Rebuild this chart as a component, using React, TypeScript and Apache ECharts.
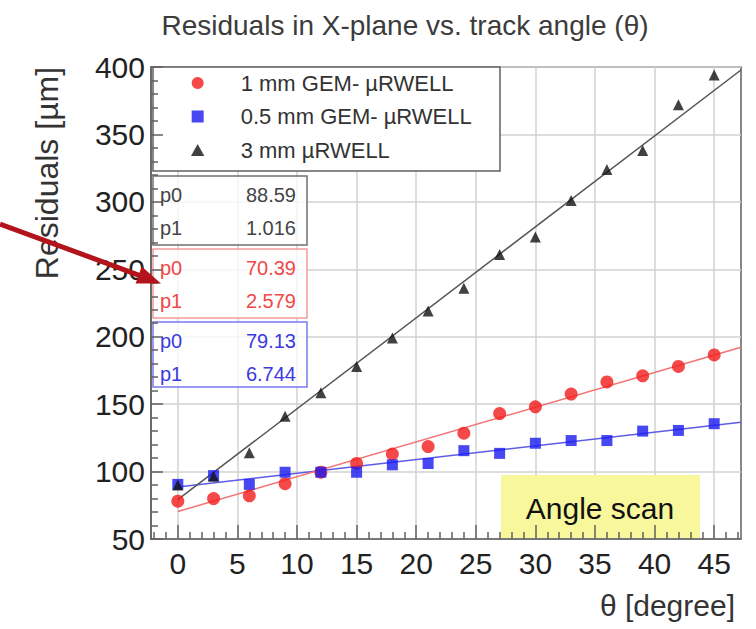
import React, { useEffect, useRef } from "react";
import * as echarts from "echarts";

// ---- data ----
const thetaDeg = [0, 3, 6, 9, 12, 15, 18, 21, 24, 27, 30, 33, 36, 39, 42, 45];
const res1mmGem = [78, 80, 82, 91, 99.5, 106, 113, 118.5, 128.5, 143, 148, 157.5, 166.5, 171, 178, 186.5];
const res05mmGem = [90.5, 97, 90.5, 99.5, 99.5, 99.5, 105, 106, 115.5, 113.5, 121, 123, 123, 130, 130.5, 135.5];
const res3mmRwell = [90, 96.5, 114, 141, 158.5, 178, 199, 219, 236, 261, 274, 301, 324, 338, 372, 394];

const seriesNames = ["1 mm GEM- \u00b5RWELL", "0.5 mm GEM- \u00b5RWELL", "3 mm \u00b5RWELL"];

// fit parameters as printed in the three stat boxes (grey, red, blue box)
const fitP0 = [88.59, 70.39, 79.13];
const fitP1 = [1.016, 2.579, 6.744];

const xMajorTicks = [0, 5, 10, 15, 20, 25, 30, 35, 40, 45];
const xMinorTicks = [-2, -1, 1, 2, 3, 4, 6, 7, 8, 9, 11, 12, 13, 14, 16, 17, 18, 19, 21, 22, 23, 24, 26, 27, 28, 29, 31, 32, 33, 34, 36, 37, 38, 39, 41, 42, 43, 44, 46, 47];
const X_MIN = -2.25;
const X_MAX = 47.25;
const Y_MIN = 50;
const Y_MAX = 400;
const Y_STEP = 50;

const titleText = "Residuals in X-plane vs. track angle (\u03b8)";
const yTitle = "Residuals [\u00b5m]";
const xTitle = "\u03b8 [degree]";
const noteText = "Angle scan";

const FONT = "'Liberation Sans', Arial, Helvetica, sans-serif";

function pairs(xs: number[], ys: number[]) {
  return xs.map((x, i) => [x, ys[i]]);
}
function fitLine(p0: number, p1: number) {
  return [
    [0, p0],
    [X_MAX, p0 + p1 * X_MAX],
  ];
}

export default function App() {
  const ref = useRef<HTMLDivElement>(null);
  useEffect(() => {
    if (!ref.current) return;
    const chart = echarts.init(ref.current, null, { renderer: "svg" });

    const boxStroke = ["#707070", "#f29a9a", "#7a7af0"];
    const boxText = ["#444444", "#f04848", "#3a3ae0"];
    const boxTop = [176, 249, 322];
    const boxH = [69, 69, 65];

    const statGraphics: any[] = [];
    fitP0.forEach((p0, i) => {
      statGraphics.push({
        type: "rect",
        z: 4,
        shape: { x: 153, y: boxTop[i], width: 154, height: boxH[i] },
        style: { fill: "rgba(255,255,255,0.75)", stroke: boxStroke[i], lineWidth: 1.5 },
      });
      const rows: [string, string][] = [
        ["p0", String(p0)],
        ["p1", String(fitP1[i])],
      ];
      rows.forEach(([k, v], r) => {
        const y = boxTop[i] + 19 + r * 33;
        statGraphics.push({
          type: "text",
          z: 6,
          x: 160,
          y,
          style: { text: k, fill: boxText[i], font: `20px ${FONT}`, textAlign: "left", textVerticalAlign: "middle" },
        });
        statGraphics.push({
          type: "text",
          z: 6,
          x: 296,
          y,
          style: { text: v, fill: boxText[i], font: `20px ${FONT}`, textAlign: "right", textVerticalAlign: "middle" },
        });
      });
    });

    const tickLine = { color: "#606060", width: 1.5 };

    const option: any = {
      animation: false,
      backgroundColor: "#ffffff",
      grid: {
        left: 151,
        right: 15,
        top: 67,
        bottom: 90,
        show: true,
        borderColor: "#606060",
        borderWidth: 1.5,
        backgroundColor: "#ffffff",
      },
      xAxis: [
        {
          type: "value",
          min: X_MIN,
          max: X_MAX,
          position: "bottom",
          axisLine: { show: false, onZero: false },
          axisTick: { show: false, customValues: xMajorTicks },
          axisLabel: { customValues: xMajorTicks, fontSize: 30, color: "#222", margin: 9, fontFamily: FONT },
          splitLine: { show: true, lineStyle: { color: "#d2d2d2", width: 1.5 } },
        },
        {
          type: "value",
          min: X_MIN,
          max: X_MAX,
          position: "bottom",
          z: 5,
          axisLine: { show: true, onZero: false, lineStyle: tickLine },
          axisTick: { show: true, inside: true, length: 14, customValues: xMajorTicks, lineStyle: tickLine },
          axisLabel: { show: false },
          splitLine: { show: false },
        },
        {
          type: "value",
          min: X_MIN,
          max: X_MAX,
          position: "bottom",
          z: 5,
          axisLine: { show: false, onZero: false },
          axisTick: { show: true, inside: true, length: 7, customValues: xMinorTicks, lineStyle: tickLine },
          axisLabel: { show: false },
          splitLine: { show: false },
        },
      ],
      yAxis: [
        {
          type: "value",
          min: Y_MIN,
          max: Y_MAX,
          interval: Y_STEP,
          position: "left",
          axisLine: { show: false, onZero: false },
          axisTick: { show: false },
          axisLabel: { fontSize: 30, color: "#222", margin: 6, fontFamily: FONT },
          splitLine: { show: true, lineStyle: { color: "#d2d2d2", width: 1.5 } },
        },
        {
          type: "value",
          min: Y_MIN,
          max: Y_MAX,
          interval: Y_STEP,
          position: "left",
          z: 5,
          axisLine: { show: true, onZero: false, lineStyle: tickLine },
          axisTick: { show: true, inside: true, length: 12, lineStyle: tickLine },
          minorTick: { show: true, splitNumber: 5, length: 7, lineStyle: tickLine },
          axisLabel: { show: false },
          splitLine: { show: false },
        },
      ],
      legend: {
        left: 186,
        top: 66,
        orient: "vertical",
        itemWidth: 76,
        itemHeight: 12,
        itemGap: 9.5,
        z: 6,
        selectedMode: false,
        textStyle: { fontSize: 22, color: "#333", fontFamily: FONT, lineHeight: 24 },
        data: [
          { name: seriesNames[0], icon: "circle" },
          { name: seriesNames[1], icon: "path://M0,0H10V10H0Z" },
          { name: seriesNames[2], icon: "path://M5,0L10,9L0,9Z" },
        ],
      },
      series: [
        {
          type: "line",
          name: "fit-grey-box",
          data: fitLine(fitP0[0], fitP1[0]),
          symbol: "none",
          silent: true,
          clip: true,
          z: 2,
          lineStyle: { color: "#5c5ce8", width: 1.5 },
        },
        {
          type: "line",
          name: "fit-red-box",
          data: fitLine(fitP0[1], fitP1[1]),
          symbol: "none",
          silent: true,
          clip: true,
          z: 2,
          lineStyle: { color: "#f27272", width: 1.5 },
        },
        {
          type: "line",
          name: "fit-blue-box",
          data: fitLine(fitP0[2], fitP1[2]),
          symbol: "none",
          silent: true,
          clip: true,
          z: 2,
          lineStyle: { color: "#555555", width: 1.5 },
        },
        {
          type: "scatter",
          name: seriesNames[0],
          data: pairs(thetaDeg, res1mmGem),
          symbol: "circle",
          symbolSize: 13,
          z: 3,
          itemStyle: { color: "#f21c1c" },
        },
        {
          type: "scatter",
          name: seriesNames[1],
          data: pairs(thetaDeg, res05mmGem),
          symbol: "rect",
          symbolSize: 11,
          z: 3,
          itemStyle: { color: "#1a1af0" },
        },
        {
          type: "scatter",
          name: seriesNames[2],
          data: pairs(thetaDeg, res3mmRwell),
          symbol: "triangle",
          symbolSize: 11,
          z: 4,
          itemStyle: { color: "#111111" },
        },
      ],
      graphic: [
        {
          type: "text",
          x: 405,
          y: 25,
          style: { text: titleText, fill: "#3c3c3c", font: `28px ${FONT}`, textAlign: "center", textVerticalAlign: "middle" },
        },
        {
          type: "text",
          x: 47,
          y: 173,
          rotation: Math.PI / 2,
          style: { text: yTitle, fill: "#333", font: `32px ${FONT}`, textAlign: "center", textVerticalAlign: "middle" },
        },
        {
          type: "text",
          x: 735,
          y: 605,
          style: { text: xTitle, fill: "#333", font: `30px ${FONT}`, textAlign: "right", textVerticalAlign: "middle" },
        },
        {
          type: "rect",
          z: 1,
          shape: { x: 501, y: 475, width: 199, height: 63 },
          style: { fill: "#f9f79b" },
        },
        {
          type: "text",
          z: 6,
          x: 600,
          y: 508,
          style: { text: noteText, fill: "#111", font: `30px ${FONT}`, textAlign: "center", textVerticalAlign: "middle" },
        },
        {
          type: "rect",
          z: 4,
          shape: { x: 153, y: 67, width: 347, height: 104 },
          style: { fill: "#ffffff", stroke: "#606060", lineWidth: 1.5 },
        },
        ...statGraphics,
        {
          type: "line",
          z: 10,
          shape: { x1: 0, y1: 224, x2: 142, y2: 276.3 },
          style: { stroke: "#b3141b", lineWidth: 5 },
        },
        {
          type: "polygon",
          z: 10,
          shape: { points: [[161, 283.5], [141.7, 266.6], [135.6, 283.4]] },
          style: { fill: "#b3141b" },
        },
      ],
    };

    chart.setOption(option);
    return () => chart.dispose();
  }, []);

  return <div ref={ref} style={{ position: "absolute", left: 0, top: 0, width: 756, height: 629 }} />;
}
